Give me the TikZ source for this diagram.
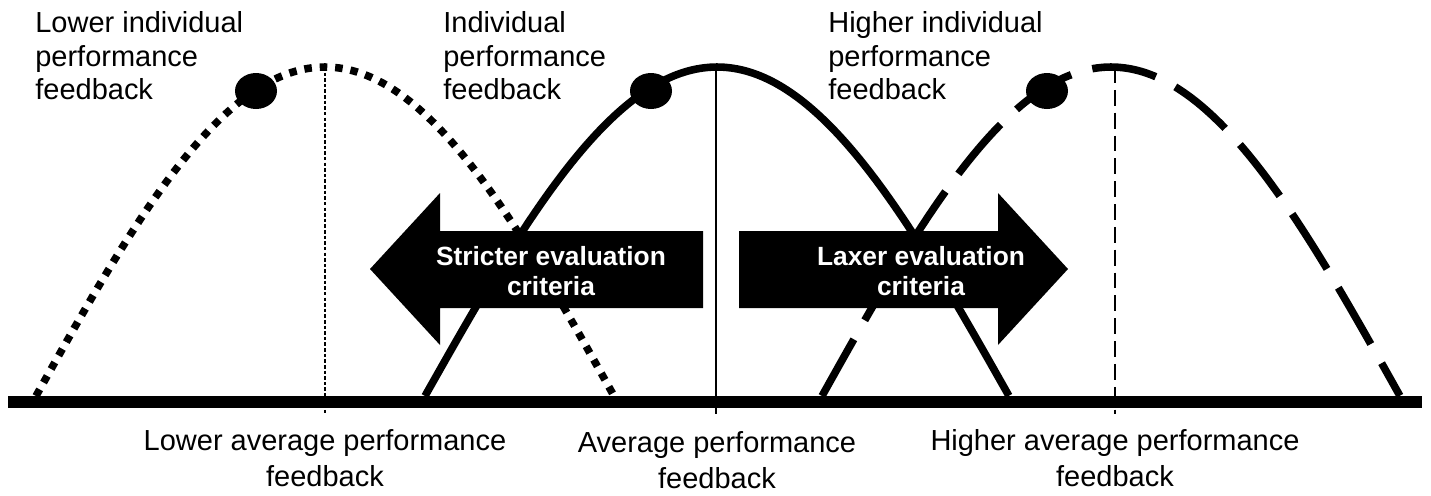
\documentclass[tikz,border=0pt]{standalone}
\usepackage{fontspec}
\setmainfont{Liberation Sans}

\begin{document}
\begin{tikzpicture}[x=0.02cm,y=-0.02cm,
    toplbl/.style={inner sep=0pt,align=left,anchor=north west,font=\fontsize{16.5}{19.2}\selectfont},
    axlbl/.style={inner sep=0pt,align=center,anchor=north,font=\fontsize{16.5}{20.4}\selectfont},
    arrlbl/.style={inner sep=0pt,align=center,text=white,font=\bfseries\fontsize{15}{17}\selectfont},
    curve/.style={line width=4.3pt},
    dotcurve/.style={curve,dash pattern=on 4.3pt off 4.5pt},
    dashcurve/.style={curve,dash pattern=on 37pt off 12.5pt},
    guide/.style={line width=0.8pt}]
\useasboundingbox (0,0) rectangle (1431,495);
% Peaks and feet
\coordinate (lowpk) at (325,67);
\coordinate (avgpk) at (716,67);
\coordinate (highpk) at (1115,67);
\coordinate (lowft) at (325,414);
\coordinate (avgft) at (716,414);
\coordinate (highft) at (1115,414);
% Axis
\coordinate (axl) at (8,402);
\coordinate (axr) at (1422,402);
\draw[line width=6.8pt] (axl) -- (axr);
% Curves
\draw[dotcurve] plot[domain=-1:1,samples=81,smooth] ({325+289*\x},{396-329*cos(90*\x)});
\draw[curve] plot[domain=-1:1,samples=81,smooth] ({717+292*\x},{396-329*cos(90*\x)});
\draw[dashcurve] plot[domain=-1:1,samples=81,smooth] ({1111+289*\x},{396-329*cos(90*\x)});
% Guides
\draw[guide,dash pattern=on 2pt off 1.2pt] (lowpk) -- (lowft);
\draw[guide] (avgpk) -- (avgft);
\draw[guide,dash pattern=on 9pt off 4pt] (highpk) -- (highft);
% Individual feedback
\fill (256,91) ellipse [x radius=21,y radius=18];
\fill (651,91) ellipse [x radius=21,y radius=18];
\fill (1047,91) ellipse [x radius=21,y radius=18];
% Arrows
\fill (703,231) -- (440,231) -- (440,193) -- (370,269) -- (440,345) -- (440,308) -- (703,308) -- cycle;
\fill (739,231) -- (998,231) -- (998,193) -- (1068,269) -- (998,345) -- (998,308) -- (739,308) -- cycle;
\node[arrlbl] (strict) at (551,271) {Stricter evaluation\\criteria};
\node[arrlbl] (lax) at (921,271) {Laxer evaluation\\criteria};
% Labels
\node[toplbl] (lowind) at (35,11) {Lower individual\\performance\\feedback};
\node[toplbl] (ind) at (443,11) {Individual\\performance\\feedback};
\node[toplbl] (highind) at (828,11) {Higher individual\\performance\\feedback};
\node[axlbl] (lowavg) at (325,429) {Lower average performance\\feedback};
\node[axlbl] (avg) at (717,431) {Average performance\\feedback};
\node[axlbl] (highavg) at (1115,429) {Higher average performance\\feedback};
\end{tikzpicture}
\end{document}
